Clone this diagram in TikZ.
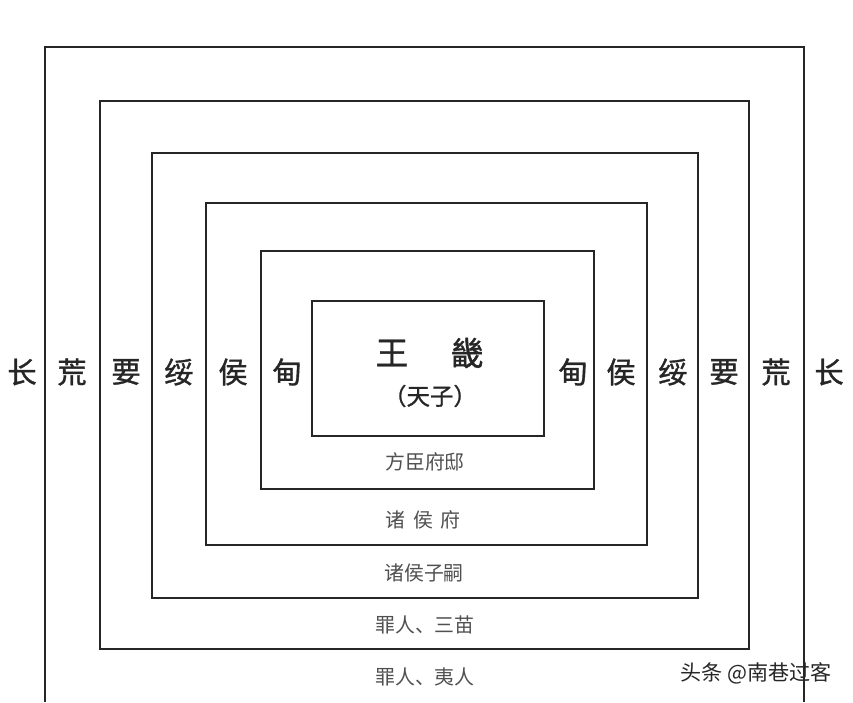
\documentclass[tikz,border=0pt]{standalone}
\usepackage{fontspec}
\usepackage{xcolor}
\newfontfamily\cjk{Noto Sans CJK SC}
\newfontfamily\cjkmid[FakeBold=1.2]{Noto Sans CJK SC}
\usetikzlibrary{positioning}

\definecolor{inkline}{HTML}{262626}
\definecolor{inkgray}{HTML}{505050}

\begin{document}
\begin{tikzpicture}[
	%	style def
    x=0.03cm, y=-0.03cm,
    zone line/.style={line width=2.4pt, color=inkline},
    side label/.style={font=\cjkmid\fontsize{25}{30}\selectfont, color=inkline, inner sep=0pt},
    ring label/.style={font=\cjk\fontsize{17}{20}\selectfont, color=inkgray, inner sep=0pt},
    every node/.style={color=black}
    ]
    \useasboundingbox (0,0) rectangle (853,702);

	% nested zones, outer one runs off the bottom
	\draw[zone line] (45,702) coordinate (Rbl) -- (45,47) coordinate (Rtl) -- (804,47) coordinate (Rtr) -- (804,702) coordinate (Rbr);
	\draw[zone line] (100,101) rectangle (749,649);
	\draw[zone line] (152,153) rectangle (698,598);
	\draw[zone line] (206,203) rectangle (647,545);
	\draw[zone line] (261,251) rectangle (594,489);
	\draw[zone line] (312,301) rectangle (544,436);

	% centre
	\node[side label, font=\cjkmid\fontsize{28}{32}\selectfont] (wang) at (392,353) {王};
	\node[side label, font=\cjkmid\fontsize{28}{32}\selectfont] (ji) at (467,353) {畿};
	\node[ring label, font=\cjkmid\fontsize{20}{24}\selectfont, color=inkline] (tianzi) at (430,396) {（天子）};

	% left side
	\node[side label] (zhangL) at (22,372) {长};
	\node[side label] (huangL) at (72,372) {荒};
	\node[side label] (yaoL) at (126,372) {要};
	\node[side label] (suiL) at (179,372) {绥};
	\node[side label] (houL) at (233,372) {侯};
	\node[side label] (dianL) at (287,372) {甸};

	% right side
	\node[side label] (dianR) at (573,372) {甸};
	\node[side label] (houR) at (621,372) {侯};
	\node[side label] (suiR) at (673,372) {绥};
	\node[side label] (yaoR) at (724,372) {要};
	\node[side label] (huangR) at (776,372) {荒};
	\node[side label] (zhangR) at (829,372) {长};

	% bottom rings
	\node[ring label] (fangchen) at (425,462) {方臣府邸};
	\node[ring label] (zhuhou) at (423,520) {诸\hspace{0.4em}侯\hspace{0.4em}府};
	\node[ring label] (zisi) at (424,573) {诸侯子嗣};
	\node[ring label] (sanmiao) at (425,625) {罪人、三苗};
	\node[ring label] (yiren) at (425,677) {罪人、夷人};

	% watermark
	\node[ring label, font=\cjk\fontsize{18}{21}\selectfont, color=inkline] (mark) at (756,673) {头条 @南巷过客};

\end{tikzpicture}
\end{document}
